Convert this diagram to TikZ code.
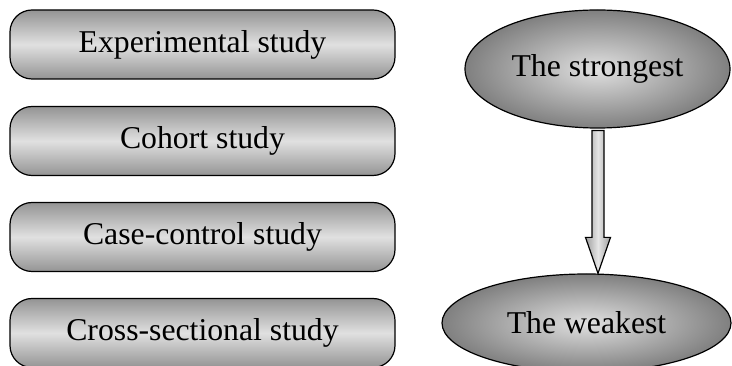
\documentclass[tikz,border=0pt]{standalone}
\usepackage{fontspec}
\setmainfont{Liberation Serif}
\usetikzlibrary{shapes.geometric,calc}
\tikzset{
  studybox/.style={draw, line width=0.9pt, rounded corners=16.5pt, inner sep=0pt,
    minimum width=288.75pt, minimum height=51.75pt,
    top color=black!42, bottom color=black!42, middle color=black!12},
  levelellipse/.style={draw, line width=0.9pt, ellipse, inner sep=0pt,
    inner color=black!12, outer color=black!50},
  arrowfill/.style={draw, line width=0.9pt, line join=miter,
    left color=black!38, right color=black!38, middle color=black!10}
}
\begin{document}
\begin{tikzpicture}[x=0.75pt, y=-0.75pt, font=\fontsize{23.8}{28}\selectfont]
    \useasboundingbox (0,0) rectangle (732,366);
    \clip (0,0) rectangle (732,366);
    % left column
    \node[studybox] (exp) at (202.5,44.5) {Experimental study};
    \node[studybox] (coh) at (202.5,141) {Cohort study};
    \node[studybox] (cc)  at (202.5,237) {Case-control study};
    \node[studybox] (cs)  at (202.5,333) {Cross-sectional study};
    % right column
    \node[levelellipse, minimum width=198.75pt, minimum height=88.5pt] (strong) at (597.5,69) {The strongest};
    \node[levelellipse, minimum width=216.75pt, minimum height=73.5pt] (weak) at (586.5,323) {The weakest};
    \coordinate (top) at ($(strong.south)+(0.5,2)$);
    \coordinate (tip) at (top |- weak.north);
    \draw[arrowfill] ($(top)+(-6,0)$) -- ($(top)+(6,0)$) -- ($(tip)+(6,-36)$)
        -- ($(tip)+(12.5,-36)$) -- (tip) -- ($(tip)+(-12.5,-36)$) -- ($(tip)+(-6,-36)$) -- cycle;
\end{tikzpicture}
\end{document}
